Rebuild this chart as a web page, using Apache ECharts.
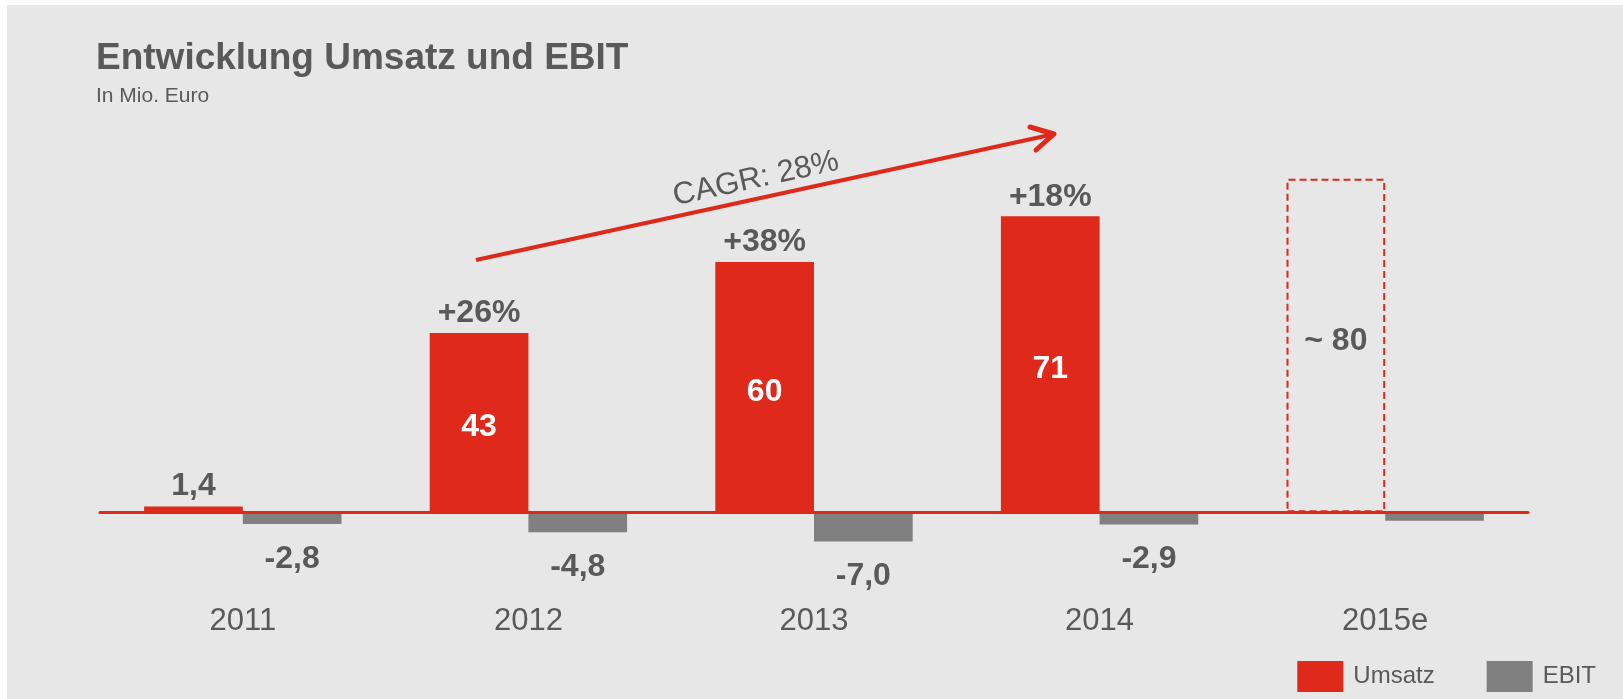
<!DOCTYPE html>
<html>
<head>
<meta charset="utf-8">
<title>Entwicklung Umsatz und EBIT</title>
<script src="https://cdn.jsdelivr.net/npm/echarts@6/dist/echarts.min.js"></script>
<style>
  html, body { margin: 0; padding: 0; background: #ffffff; }
  #chart { width: 1623px; height: 699px; }
</style>
</head>
<body>
<div id="chart"></div>
<script>
// Revenue and EBIT per year, in million euro
const years = ['2011', '2012', '2013', '2014', '2015e'];
const umsatz = [1.4, 43, 60, 71, 80];
const ebit = [-2.8, -4.8, -7.0, -2.9, -2.0];
const growth = [null, 26, 38, 18, null];          // year-on-year revenue growth, %
const isEstimate = [false, false, false, false, true];
const ebitLabelShown = [true, true, true, true, false];

const RED = '#DE291B';
const GRAY = '#808080';
const TEXT = '#595959';
const BG = '#E7E7E7';
const FONT = '"Liberation Sans", Arial, Helvetica, sans-serif';

// German number format: 1,4 / 43 / -7,0
function fmt(v, forceDecimal) {
  if (!forceDecimal && Number.isInteger(v)) return String(v);
  return v.toFixed(1).replace('.', ',');
}

const umsatzData = umsatz.map((v, i) => {
  if (isEstimate[i]) {
    return {
      value: v,
      itemStyle: { color: 'rgba(0,0,0,0)', borderColor: RED, borderWidth: 2, borderType: [7, 4] },
      label: { show: true, position: 'inside', color: TEXT, offset: [0, -4], formatter: () => '~ ' + fmt(v) }
    };
  }
  if (v < 10) {
    return {
      value: v,
      label: { show: true, position: 'top', distance: 4, offset: [0, 0], color: TEXT, formatter: () => fmt(v) }
    };
  }
  return { value: v };
});

const ebitData = ebit.map((v, i) => ({
  value: v,
  label: { show: ebitLabelShown[i] }
}));

const growthMarks = [];
growth.forEach((g, i) => {
  if (g !== null) growthMarks.push({ coord: [years[i], umsatz[i]], value: g });
});

const chart = echarts.init(document.getElementById('chart'), null, { renderer: 'canvas' });

chart.setOption({
  animation: false,
  backgroundColor: 'transparent',
  textStyle: { fontFamily: FONT },
  title: [
    {
      text: 'Entwicklung Umsatz und EBIT',
      left: 96, top: 40, padding: 0,
      textStyle: { fontFamily: FONT, fontSize: 37, fontWeight: 'bold', color: TEXT }
    },
    {
      text: 'In Mio. Euro',
      left: 96, top: 86, padding: 0,
      textStyle: { fontFamily: FONT, fontSize: 21, fontWeight: 'normal', color: TEXT }
    }
  ],
  legend: {
    data: ['Umsatz', 'EBIT'],
    right: 27, top: 661,
    icon: 'rect',
    itemWidth: 46, itemHeight: 31, itemGap: 52,
    padding: 0,
    selectedMode: false,
    textStyle: { fontFamily: FONT, fontSize: 24, color: TEXT, padding: [0, 0, 0, 5] }
  },
  grid: { left: 100, width: 1428, top: 137, height: 417, containLabel: false },
  xAxis: {
    type: 'category',
    data: years,
    z: 5,
    axisLine: { show: true, onZero: true, lineStyle: { color: RED, width: 3 } },
    axisTick: { show: false },
    axisLabel: {
      margin: 67, fontSize: 31, color: TEXT, fontFamily: FONT,
      verticalAlign: 'middle', interval: 0
    },
    splitLine: { show: false }
  },
  yAxis: {
    type: 'value', min: -10, max: 90, show: false,
    splitLine: { show: false }
  },
  series: [
    {
      name: 'Umsatz',
      type: 'bar',
      barWidth: 98.7,
      barGap: '0%',
      itemStyle: { color: RED },
      label: {
        show: true, position: 'inside', offset: [0, 5], color: '#ffffff',
        fontSize: 32, fontWeight: 'bold', fontFamily: FONT,
        formatter: p => fmt(p.value)
      },
      data: umsatzData,
      markPoint: {
        silent: true,
        symbol: 'circle',
        symbolSize: 1,
        itemStyle: { color: 'rgba(0,0,0,0)' },
        label: {
          show: true, position: 'top', distance: 3,
          color: TEXT, fontSize: 32, fontWeight: 'bold', fontFamily: FONT,
          formatter: p => '+' + p.value + '%'
        },
        data: growthMarks
      }
    },
    {
      name: 'EBIT',
      type: 'bar',
      barWidth: 98.7,
      barGap: '0%',
      itemStyle: { color: GRAY },
      label: {
        show: true, position: 'bottom', distance: 19,
        color: TEXT, fontSize: 32, fontWeight: 'bold', fontFamily: FONT,
        formatter: p => fmt(p.value, true)
      },
      data: ebitData
    }
  ],
  graphic: [
    {
      type: 'rect', z: -100, silent: true,
      shape: { x: 7, y: 5, width: 1616, height: 694 },
      style: { fill: BG }
    },
    {
      // CAGR trend arrow
      type: 'polyline', z: 100, silent: true,
      shape: { points: [[476, 260], [1052, 134.5]] },
      style: { stroke: RED, lineWidth: 4, fill: null }
    },
    {
      type: 'polyline', z: 100, silent: true,
      shape: { points: [[1030, 127], [1054, 134], [1036, 150]] },
      style: { stroke: RED, lineWidth: 5, fill: null, lineCap: 'round', lineJoin: 'round' }
    },
    {
      type: 'text', z: 100, silent: true,
      x: 756, y: 179,
      rotation: 12.3 * Math.PI / 180,
      style: {
        text: 'CAGR: 28%', fontFamily: FONT, fontSize: 31, fill: TEXT,
        align: 'center', verticalAlign: 'middle'
      }
    }
  ]
});
</script>
</body>
</html>
